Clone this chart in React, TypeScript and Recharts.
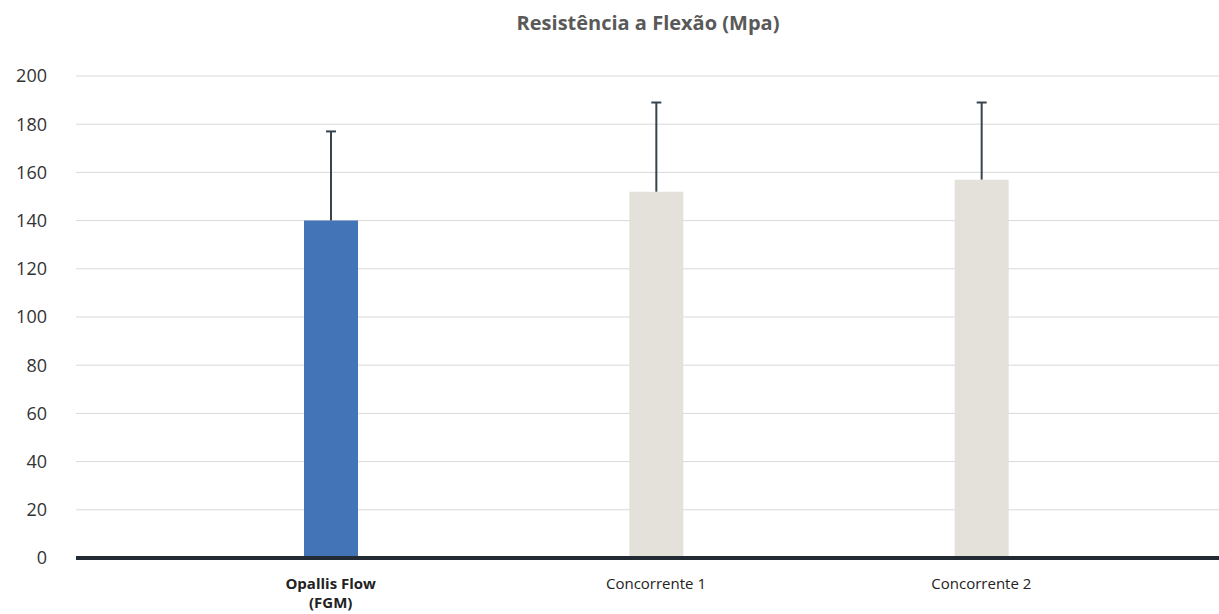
import { BarChart, Bar, XAxis, YAxis, CartesianGrid, Cell } from "recharts";

const categories = ["Opallis Flow (FGM)", "Concorrente 1", "Concorrente 2"];
const tickLines = [["Opallis Flow", "(FGM)"], ["Concorrente 1"], ["Concorrente 2"]];
const values = [140, 152, 157];
const errors = [37, 37, 32];
const yTicks = [0, 20, 40, 60, 80, 100, 120, 140, 160, 180, 200];

const COLORS = ["#4474b8", "#e4e1da", "#e4e1da"];
const FONT = "'Open Sans', sans-serif";

const data = categories.map((name, i) => ({ name, value: values[i], err: errors[i] }));

function ErrorShape(props: any) {
  const { x, y, width, height } = props;
  const cx = x + width / 2;
  return (
    <g stroke="#37444e" strokeWidth={2}>
      <line x1={cx} x2={cx} y1={y + height} y2={y} />
      <line x1={cx - 5} x2={cx + 5} y1={y} y2={y} />
    </g>
  );
}

function XTick(props: any) {
  const { x, y, index } = props;
  const lines = tickLines[index] || [];
  return (
    <text x={x} y={y} textAnchor="middle" fill="#222" fontSize={15} fontFamily={FONT} fontWeight={index === 0 ? 700 : 400}>
      {lines.map((l, i) => (
        <tspan key={i} x={x} dy={i === 0 ? 23 : 19}>{l}</tspan>
      ))}
    </text>
  );
}

export default function App() {
  return (
    <div style={{ position: "absolute", left: 0, top: 0, width: 1219, height: 614, background: "#fff" }}>
      <div style={{ position: "absolute", top: 9, left: 0, width: 1296, textAlign: "center", fontFamily: FONT, fontWeight: 700, fontSize: 20, color: "#595959" }}>
        Resistência a Flexão (Mpa)
      </div>
      <BarChart width={1219} height={614} data={data} margin={{ top: 76, right: 0, bottom: 0, left: 0 }}>
        <CartesianGrid vertical={false} stroke="#d9d9d9" />
        <XAxis
          dataKey="name"
          height={56}
          padding={{ left: 92, right: 75 }}
          tickLine={false}
          axisLine={{ stroke: "#222a33", strokeWidth: 4 }}
          tick={<XTick />}
          interval={0}
        />
        <YAxis
          width={76}
          domain={[0, 200]}
          ticks={yTicks}
          tickLine={false}
          axisLine={false}
          tickSize={0}
          tickMargin={29}
          tick={{ fill: "#333", fontSize: 18, fontFamily: FONT }}
        />
        <Bar dataKey="value" stackId="a" barSize={54} isAnimationActive={false}>
          {data.map((_, i) => <Cell key={i} fill={COLORS[i]} />)}
        </Bar>
        <Bar dataKey="err" stackId="a" barSize={54} shape={<ErrorShape />} isAnimationActive={false} />
      </BarChart>
    </div>
  );
}
